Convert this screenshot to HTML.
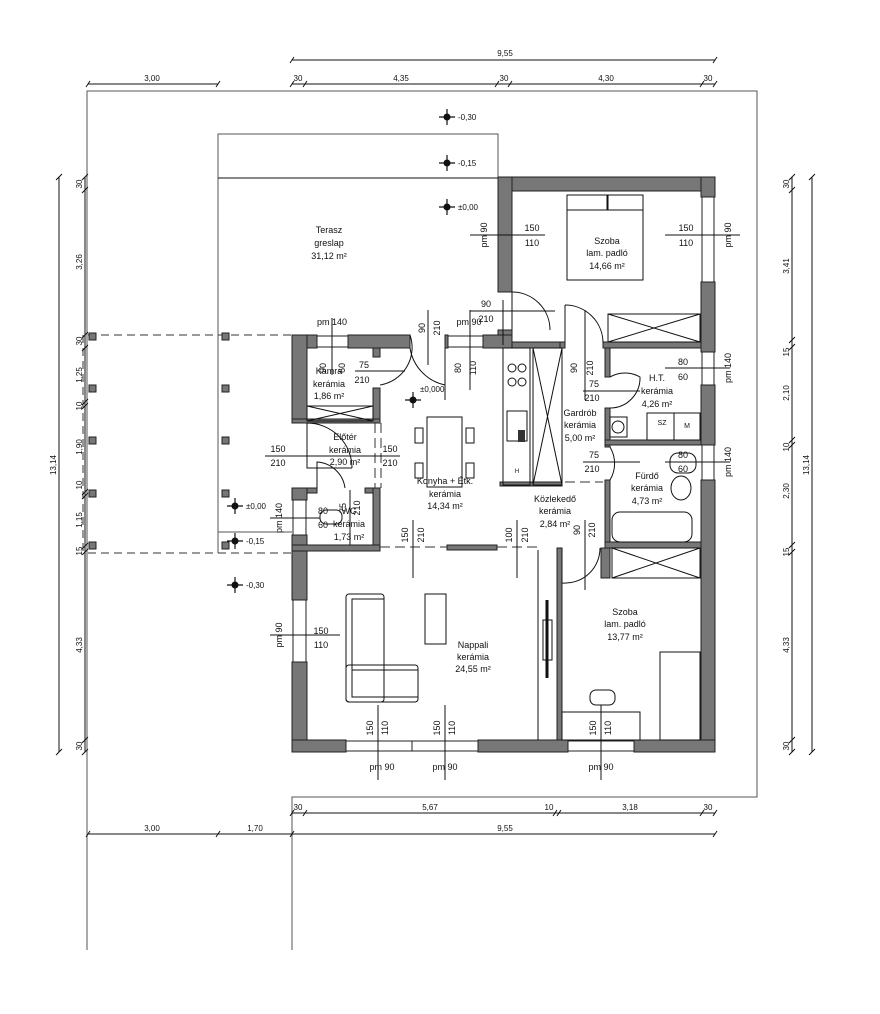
<!DOCTYPE html>
<html><head><meta charset="utf-8"><style>
html,body{margin:0;padding:0;background:#fff;}
svg{display:block;font-family:"Liberation Sans",sans-serif;}
.t{font-size:9px;fill:#111;text-anchor:middle;}
.d{font-size:8px;fill:#111;text-anchor:middle;}
.w{fill:#777;stroke:#222;stroke-width:1;}
.l{stroke:#111;stroke-width:1;fill:none;}
.g{stroke:#555;stroke-width:1;fill:none;}
.f{fill:#fff;stroke:#222;stroke-width:1;}
</style></head><body>
<svg width="880" height="1014" viewBox="0 0 880 1014" xmlns="http://www.w3.org/2000/svg">
<!-- outline -->
<path class="g" d="M87 950 V91 H757 V797 H292 V950"/>
<!-- terrace -->
<path class="g" d="M218 553 V134 H498 V178"/>
<line class="l" x1="218" y1="178" x2="498" y2="178"/>
<line class="g" x1="218" y1="532" x2="292" y2="532"/>
<path d="M88 335 H292 M88 553 H292 M83 335 V553" stroke="#333" stroke-dasharray="8,5" fill="none"/>
<g fill="#777" stroke="#222">
<rect x="89" y="333" width="7" height="7"/><rect x="89" y="385" width="7" height="7"/><rect x="89" y="437" width="7" height="7"/><rect x="89" y="490" width="7" height="7"/><rect x="89" y="542" width="7" height="7"/>
<rect x="222" y="333" width="7" height="7"/><rect x="222" y="385" width="7" height="7"/><rect x="222" y="437" width="7" height="7"/><rect x="222" y="490" width="7" height="7"/><rect x="222" y="542" width="7" height="7"/>
</g>
<!-- dims top -->
<g class="l">
<line x1="292" y1="60" x2="715" y2="60"/>
<line x1="88" y1="84" x2="218" y2="84"/>
<line x1="292" y1="84" x2="715" y2="84"/>
<line x1="292" y1="813" x2="715" y2="813"/>
<line x1="88" y1="834" x2="715" y2="834"/>
<line x1="59" y1="177" x2="59" y2="752"/>
<line x1="85" y1="177" x2="85" y2="752"/>
<line x1="792" y1="177" x2="792" y2="752"/>
<line x1="812" y1="177" x2="812" y2="752"/>
</g>
<g stroke="#111" stroke-width="1">
<path d="M290 63 l4 -6 M713 63 l4 -6 M86 87 l4 -6 M216 87 l4 -6 M290 87 l4 -6 M303 87 l4 -6 M495 87 l4 -6 M508 87 l4 -6 M700 87 l4 -6 M713 87 l4 -6
M290 816 l4 -6 M303 816 l4 -6 M553 816 l4 -6 M557 816 l4 -6 M700 816 l4 -6 M713 816 l4 -6
M86 837 l4 -6 M216 837 l4 -6 M290 837 l4 -6 M713 837 l4 -6"/>
<path d="M56 180 l6 -6 M56 755 l6 -6 M809 180 l6 -6 M809 755 l6 -6
M82 180 l6 -6 M82 193 l6 -6 M82 338 l6 -6 M82 351 l6 -6 M82 405 l6 -6 M82 409 l6 -6 M82 495 l6 -6 M82 499 l6 -6 M82 549 l6 -6 M82 555 l6 -6 M82 743 l6 -6 M82 755 l6 -6
M789 180 l6 -6 M789 193 l6 -6 M789 343 l6 -6 M789 350 l6 -6 M789 443 l6 -6 M789 448 l6 -6 M789 548 l6 -6 M789 555 l6 -6 M789 743 l6 -6 M789 755 l6 -6"/>
</g>
<g class="d">
<text x="505" y="56">9,55</text>
<text x="152" y="81">3,00</text><text x="298" y="81">30</text><text x="401" y="81">4,35</text><text x="504" y="81">30</text><text x="606" y="81">4,30</text><text x="708" y="81">30</text>
<text x="298" y="810">30</text><text x="430" y="810">5,67</text><text x="549" y="810">10</text><text x="630" y="810">3,18</text><text x="708" y="810">30</text>
<text x="152" y="831">3,00</text><text x="255" y="831">1,70</text><text x="505" y="831">9,55</text>
</g>
<g class="d">
<text transform="translate(56,465) rotate(-90)">13,14</text>
<text transform="translate(82,184) rotate(-90)">30</text>
<text transform="translate(82,262) rotate(-90)">3,26</text>
<text transform="translate(82,341) rotate(-90)">30</text>
<text transform="translate(82,375) rotate(-90)">1,25</text>
<text transform="translate(82,406) rotate(-90)">10</text>
<text transform="translate(82,447) rotate(-90)">1,90</text>
<text transform="translate(82,485) rotate(-90)">10</text>
<text transform="translate(82,520) rotate(-90)">1,15</text>
<text transform="translate(82,551) rotate(-90)">15</text>
<text transform="translate(82,645) rotate(-90)">4,33</text>
<text transform="translate(82,746) rotate(-90)">30</text>
<text transform="translate(809,465) rotate(-90)">13,14</text>
<text transform="translate(789,184) rotate(-90)">30</text>
<text transform="translate(789,266) rotate(-90)">3,41</text>
<text transform="translate(789,352) rotate(-90)">15</text>
<text transform="translate(789,393) rotate(-90)">2,10</text>
<text transform="translate(789,447) rotate(-90)">10</text>
<text transform="translate(789,491) rotate(-90)">2,30</text>
<text transform="translate(789,552) rotate(-90)">15</text>
<text transform="translate(789,645) rotate(-90)">4,33</text>
<text transform="translate(789,746) rotate(-90)">30</text>
</g>
<!-- exterior walls -->
<g class="w">
<rect x="498" y="177" width="217" height="14"/>
<rect x="498" y="177" width="14" height="115"/>
<rect x="498" y="330" width="14" height="18"/>
<rect x="701" y="177" width="14" height="20"/>
<rect x="701" y="282" width="14" height="70"/>
<rect x="701" y="385" width="14" height="60"/>
<rect x="701" y="480" width="14" height="272"/>
<rect x="292" y="335" width="25" height="13"/>
<rect x="348" y="335" width="62" height="13"/>
<rect x="445" y="335" width="3" height="13"/>
<rect x="483" y="335" width="29" height="13"/>
<rect x="292" y="335" width="15" height="88"/>
<rect x="292" y="488" width="15" height="12"/>
<rect x="292" y="535" width="15" height="65"/>
<rect x="292" y="662" width="15" height="90"/>
<rect x="292" y="740" width="54" height="12"/>
<rect x="478" y="740" width="90" height="12"/>
<rect x="634" y="740" width="81" height="12"/>
</g>
<!-- windows -->
<g class="f">
<rect x="317" y="336" width="31" height="11"/><rect x="448" y="336" width="35" height="11"/>
<rect x="702" y="197" width="12" height="85"/><rect x="702" y="352" width="12" height="33"/><rect x="702" y="445" width="12" height="35"/>
<rect x="293" y="500" width="13" height="35"/><rect x="293" y="600" width="13" height="62"/>
<rect x="346" y="741" width="66" height="10"/><rect x="412" y="741" width="66" height="10"/><rect x="568" y="741" width="66" height="10"/>
</g>
<!-- interior walls -->
<g fill="#777" stroke="#222">
<rect x="512" y="342" width="51" height="6"/>
<rect x="603" y="342" width="98" height="6"/>
<rect x="373" y="348" width="7" height="9"/>
<rect x="373" y="388" width="7" height="35"/>
<rect x="292" y="419" width="88" height="4"/>
<rect x="307" y="488" width="10" height="5"/>
<rect x="365" y="488" width="15" height="5"/>
<rect x="373" y="488" width="7" height="58"/>
<rect x="605" y="348" width="5" height="29"/>
<rect x="605" y="408" width="5" height="39"/>
<rect x="605" y="440" width="96" height="5"/>
<rect x="605" y="480" width="5" height="68"/>
<rect x="605" y="542" width="96" height="6"/>
<rect x="560" y="342" width="5" height="6"/>
<rect x="292" y="545" width="88" height="6"/>
<rect x="447" y="545" width="50" height="5"/>
<rect x="557" y="548" width="5" height="192"/>
<rect x="601" y="548" width="9" height="30"/>
<rect x="500" y="482" width="62" height="4"/>
</g>
<line class="l" x1="538" y1="550" x2="538" y2="740"/>
<path d="M380 547 H447 M497 547 H540 M565 482 H603" stroke="#333" stroke-dasharray="10,5" fill="none"/>
<path d="M375 423 V488 M381 423 V488" stroke="#333" stroke-dasharray="10,5" fill="none"/>
<!-- furniture -->
<g class="l">
<rect x="567" y="195" width="40" height="15"/><rect x="608" y="195" width="35" height="15"/>
<rect x="567" y="210" width="76" height="70"/>
<rect x="608" y="314" width="92" height="28"/><path d="M608 314 L700 342 M608 342 L700 314"/>
<rect x="307" y="406" width="66" height="15"/><path d="M307 406 L373 421 M307 421 L373 406"/>
<rect x="503" y="348" width="27" height="137"/>
<circle cx="512" cy="368" r="4"/><circle cx="522" cy="368" r="4"/><circle cx="512" cy="382" r="4"/><circle cx="522" cy="382" r="4"/>
<rect x="507" y="411" width="20" height="30"/>
<rect x="533" y="348" width="29" height="137"/><path d="M533 348 L562 485 M562 348 L533 485"/>
<rect x="427" y="417" width="35" height="70"/>
<rect x="415" y="428" width="8" height="15"/><rect x="415" y="463" width="8" height="15"/>
<rect x="466" y="428" width="8" height="15"/><rect x="466" y="463" width="8" height="15"/>
<rect x="647" y="413" width="53" height="27"/><line x1="674" y1="413" x2="674" y2="440"/>
<rect x="610" y="417" width="17" height="20"/><circle cx="618" cy="427" r="6"/>
<ellipse cx="681" cy="488" rx="10" ry="12"/><rect x="670" y="453" width="26" height="20" rx="8"/>
<rect x="612" y="512" width="80" height="30" rx="8"/>
<rect x="612" y="548" width="88" height="30"/><path d="M612 548 L700 578 M612 578 L700 548"/>
<rect x="346" y="594" width="38" height="108" rx="3"/>
<rect x="352" y="599" width="32" height="98"/>
<rect x="346" y="665" width="72" height="37" rx="3"/>
<rect x="352" y="670" width="66" height="27"/>
<rect x="425" y="594" width="21" height="50"/>
<rect x="543" y="620" width="9" height="40"/>
<rect x="562" y="712" width="78" height="28"/>
<rect x="590" y="690" width="25" height="15" rx="6"/>
<rect x="660" y="652" width="40" height="88"/>
<rect x="320" y="510" width="22" height="14" rx="6"/>
</g>
<line x1="547" y1="600" x2="547" y2="678" stroke="#111" stroke-width="3"/>
<rect x="518" y="430" width="7" height="12" fill="#333"/>
<!-- doors -->
<g class="l">
<path d="M512 292 A38 38 0 0 1 550 330"/><line x1="512" y1="292" x2="512" y2="330"/>
<path d="M565 305 A38 38 0 0 1 603 343"/><line x1="565" y1="305" x2="565" y2="343"/>
<path d="M410 335 A38 38 0 0 1 380 385"/>
<path d="M445 348 V400"/><path d="M410 348 A45 45 0 0 0 445 385"/>
<path d="M610 377 A30 30 0 0 1 640 377 A30 30 0 0 1 610 408"/>
<path d="M610 447 A32 32 0 0 1 610 480"/>
<path d="M307 423 A45 45 0 0 1 352 468 M307 423 V468 H352"/>
<path d="M345 488 A30 30 0 0 0 317 462 V488"/>
<path d="M562 548 V583 A35 35 0 0 0 600 548"/>
</g>
<!-- dim/opening labels -->
<g class="l">
<line x1="470" y1="235" x2="545" y2="235"/><line x1="665" y1="235" x2="740" y2="235"/>
<line x1="470" y1="311" x2="555" y2="311"/><line x1="503" y1="300" x2="503" y2="345"/>
<line x1="332" y1="318" x2="332" y2="375"/><line x1="428" y1="310" x2="428" y2="365"/>
<line x1="470" y1="310" x2="470" y2="390"/>
<line x1="355" y1="371" x2="405" y2="371"/><line x1="585" y1="310" x2="585" y2="400"/>
<line x1="583" y1="391" x2="640" y2="391"/><line x1="583" y1="462" x2="640" y2="462"/>
<line x1="665" y1="368" x2="730" y2="368"/><line x1="665" y1="462" x2="730" y2="462"/>
<line x1="265" y1="456" x2="400" y2="456"/><line x1="270" y1="518" x2="320" y2="518"/>
<line x1="350" y1="490" x2="350" y2="545"/>
<line x1="413" y1="520" x2="413" y2="578"/><line x1="517" y1="520" x2="517" y2="578"/>
<line x1="585" y1="520" x2="585" y2="590"/>
<line x1="270" y1="635" x2="340" y2="635"/>
<line x1="378" y1="705" x2="378" y2="780"/><line x1="445" y1="705" x2="445" y2="780"/><line x1="601" y1="705" x2="601" y2="780"/>
</g>
<g class="t">
<text x="532" y="231">150</text><text x="532" y="246">110</text>
<text x="686" y="231">150</text><text x="686" y="246">110</text>
<text x="486" y="307">90</text><text x="486" y="322">210</text>
<text x="332" y="325">pm 140</text><text x="469" y="325">pm 90</text>
<text x="364" y="368">75</text><text x="362" y="383">210</text>
<text x="594" y="387">75</text><text x="592" y="401">210</text>
<text x="594" y="458">75</text><text x="592" y="472">210</text>
<text x="683" y="365">80</text><text x="683" y="380">60</text>
<text x="683" y="458">80</text><text x="683" y="472">60</text>
<text x="278" y="452">150</text><text x="278" y="466">210</text>
<text x="390" y="452">150</text><text x="390" y="466">210</text>
<text x="321" y="634">150</text><text x="321" y="648">110</text>
<text x="382" y="770">pm 90</text><text x="445" y="770">pm 90</text><text x="601" y="770">pm 90</text>
<text x="323" y="514">80</text><text x="323" y="528">60</text>
</g>
<g class="t">
<text transform="translate(487,235) rotate(-90)">pm 90</text>
<text transform="translate(731,235) rotate(-90)">pm 90</text>
<text transform="translate(731,368) rotate(-90)">pm 140</text>
<text transform="translate(731,462) rotate(-90)">pm 140</text>
<text transform="translate(282,518) rotate(-90)">pm 140</text>
<text transform="translate(282,635) rotate(-90)">pm 90</text>
<text transform="translate(425,328) rotate(-90)">90</text><text transform="translate(440,328) rotate(-90)">210</text>
<text transform="translate(461,368) rotate(-90)">80</text><text transform="translate(476,368) rotate(-90)">110</text>
<text transform="translate(326,368) rotate(-90)">90</text><text transform="translate(345,368) rotate(-90)">60</text>
<text transform="translate(577,368) rotate(-90)">90</text><text transform="translate(593,368) rotate(-90)">210</text>
<text transform="translate(346,508) rotate(-90)">75</text><text transform="translate(360,508) rotate(-90)">210</text>
<text transform="translate(408,535) rotate(-90)">150</text><text transform="translate(424,535) rotate(-90)">210</text>
<text transform="translate(512,535) rotate(-90)">100</text><text transform="translate(528,535) rotate(-90)">210</text>
<text transform="translate(580,530) rotate(-90)">90</text><text transform="translate(595,530) rotate(-90)">210</text>
<text transform="translate(373,728) rotate(-90)">150</text><text transform="translate(388,728) rotate(-90)">110</text>
<text transform="translate(440,728) rotate(-90)">150</text><text transform="translate(455,728) rotate(-90)">110</text>
<text transform="translate(596,728) rotate(-90)">150</text><text transform="translate(611,728) rotate(-90)">110</text>
<text transform="translate(662,425) rotate(0)" style="font-size:7px">SZ</text>
<text x="687" y="428" style="font-size:7px">M</text>
<text x="517" y="473" style="font-size:6px">H</text>
</g>
<!-- room labels -->
<g class="t">
<text x="329" y="233">Terasz</text><text x="329" y="246">greslap</text><text x="329" y="259">31,12 m²</text>
<text x="607" y="244">Szoba</text><text x="607" y="256">lam. padló</text><text x="607" y="269">14,66 m²</text>
<text x="657" y="381">H.T.</text><text x="657" y="394">kerámia</text><text x="657" y="407">4,26 m²</text>
<text x="580" y="416">Gardrób</text><text x="580" y="428">kerámia</text><text x="580" y="441">5,00 m²</text>
<text x="329" y="374">Kamra</text><text x="329" y="387">kerámia</text><text x="329" y="399">1,86 m²</text>
<text x="345" y="440">Előtér</text><text x="345" y="453">kerámia</text><text x="345" y="465">2,90 m²</text>
<text x="445" y="484">Konyha + Étk.</text><text x="445" y="497">kerámia</text><text x="445" y="509">14,34 m²</text>
<text x="555" y="502">Közlekedő</text><text x="555" y="514">kerámia</text><text x="555" y="527">2,84 m²</text>
<text x="647" y="479">Fürdő</text><text x="647" y="491">kerámia</text><text x="647" y="504">4,73 m²</text>
<text x="349" y="514">WC</text><text x="349" y="527">kerámia</text><text x="349" y="540">1,73 m²</text>
<text x="473" y="648">Nappali</text><text x="473" y="660">kerámia</text><text x="473" y="672">24,55 m²</text>
<text x="625" y="615">Szoba</text><text x="625" y="627">lam. padló</text><text x="625" y="640">13,77 m²</text>
</g>
<!-- level markers -->
<g stroke="#111" stroke-width="1.2">
<path d="M439 117 h16 M447 109 v16 M439 163 h16 M447 155 v16 M439 207 h16 M447 199 v16 M227 506 h16 M235 498 v16 M227 541 h16 M235 533 v16 M227 585 h16 M235 577 v16 M405 400 h16 M413 392 v16"/>
</g>
<g fill="#111">
<circle cx="447" cy="117" r="3.5"/><circle cx="447" cy="163" r="3.5"/><circle cx="447" cy="207" r="3.5"/>
<circle cx="235" cy="506" r="3.5"/><circle cx="235" cy="541" r="3.5"/><circle cx="235" cy="585" r="3.5"/><circle cx="413" cy="400" r="3.5"/>
</g>
<g class="d" style="text-anchor:start">
<text x="458" y="120">-0,30</text><text x="458" y="166">-0,15</text><text x="458" y="210">±0,00</text>
<text x="246" y="509">±0,00</text><text x="246" y="544">-0,15</text><text x="246" y="588">-0,30</text>
<text x="420" y="392">±0,000</text>
</g>
</svg>
</body></html>
